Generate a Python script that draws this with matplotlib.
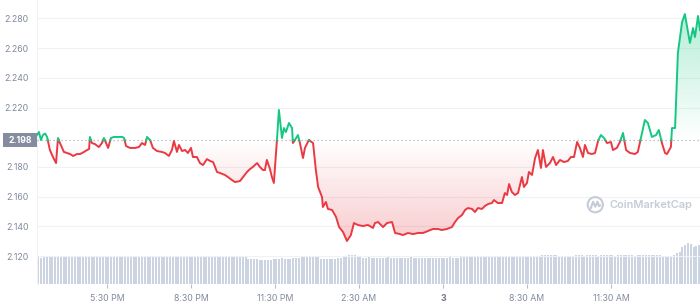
import numpy as np
import matplotlib
matplotlib.use("Agg")
import matplotlib.pyplot as plt
from matplotlib.patches import Rectangle, Circle, PathPatch
from matplotlib.path import Path
import matplotlib.transforms as mtransforms

plt.rcParams['font.family'] = ['Inter', 'DejaVu Sans']

# ---------------- data ----------------
hours = [0.00, 0.07, 0.14, 0.21, 0.29, 0.36, 0.46, 0.57, 0.68, 0.75, 0.82, 0.96, 1.07, 1.18, 1.29,
         1.43, 1.54, 1.68, 1.79, 1.86, 1.89, 1.96, 2.07, 2.21, 2.32, 2.39, 2.54, 2.64, 2.75, 2.86,
         3.04, 3.11, 3.18, 3.32, 3.50, 3.64, 3.75, 3.86, 3.93, 4.04, 4.14, 4.29, 4.46, 4.57, 4.71,
         4.82, 4.89, 5.00, 5.07, 5.18, 5.29, 5.39, 5.50, 5.57, 5.71, 5.82, 5.93, 6.07, 6.18, 6.29,
         6.43, 6.54, 6.71, 6.82, 6.96, 7.07, 7.25, 7.36, 7.50, 7.61, 7.71, 7.86, 7.96, 8.07, 8.14,
         8.21, 8.32, 8.39, 8.46, 8.57, 8.64, 8.75, 8.82, 8.89, 9.00, 9.11, 9.14, 9.21, 9.32, 9.39,
         9.50, 9.57, 9.71, 9.86, 9.96, 10.04, 10.18, 10.21, 10.32, 10.39, 10.54, 10.68, 10.79, 10.93, 11.07,
         11.21, 11.32, 11.46, 11.64, 11.82, 12.00, 12.07, 12.18, 12.36, 12.50, 12.68, 12.79, 12.96, 13.07, 13.25,
         13.43, 13.61, 13.79, 13.96, 14.14, 14.32, 14.46, 14.64, 14.82, 14.93, 15.04, 15.18, 15.29, 15.39, 15.54,
         15.64, 15.75, 15.89, 16.00, 16.11, 16.25, 16.32, 16.46, 16.61, 16.71, 16.79, 16.86, 16.96, 17.07, 17.18,
         17.32, 17.39, 17.50, 17.57, 17.68, 17.79, 17.89, 18.00, 18.07, 18.18, 18.32, 18.43, 18.54, 18.68, 18.82,
         18.96, 19.07, 19.18, 19.29, 19.39, 19.50, 19.57, 19.68, 19.82, 19.93, 20.04, 20.14, 20.25, 20.36, 20.50,
         20.57, 20.71, 20.82, 20.93, 21.04, 21.18, 21.36, 21.46, 21.57, 21.71, 21.82, 21.96, 22.11, 22.21, 22.32,
         22.43, 22.50, 22.64, 22.68, 22.79, 22.89, 23.04, 23.14, 23.25, 23.32, 23.43, 23.50, 23.61, 23.68]

prices = [2.2015, 2.2035, 2.1981, 2.2015, 2.2025, 2.2002, 2.1914, 2.1867, 2.1826, 2.1995, 2.1961, 2.1901, 2.1894, 2.1887, 2.1874,
          2.1887, 2.1887, 2.1901, 2.1914, 2.1921, 2.2002, 2.1961, 2.1954, 2.1934, 2.1961, 2.1995, 2.1928, 2.1995, 2.2002, 2.2002,
          2.2002, 2.1995, 2.1941, 2.1928, 2.1928, 2.1934, 2.1961, 2.1948, 2.2002, 2.1981, 2.1928, 2.1907, 2.1901, 2.1894, 2.1874,
          2.1914, 2.1975, 2.1901, 2.1948, 2.1907, 2.1914, 2.1894, 2.1928, 2.1867, 2.1867, 2.1826, 2.1813, 2.1853, 2.1840, 2.1833,
          2.1766, 2.1759, 2.1746, 2.1732, 2.1712, 2.1698, 2.1705, 2.1732, 2.1766, 2.1786, 2.1800, 2.1826, 2.1800, 2.1779, 2.1779,
          2.1847, 2.1786, 2.1732, 2.1692, 2.1981, 2.2184, 2.1995, 2.2062, 2.2035, 2.2096, 2.2062, 2.1961, 2.1981, 2.2015, 2.1961,
          2.1860, 2.1928, 2.1981, 2.1961, 2.1779, 2.1665, 2.1597, 2.1530, 2.1564, 2.1517, 2.1510, 2.1463, 2.1395, 2.1362, 2.1301,
          2.1341, 2.1422, 2.1409, 2.1402, 2.1409, 2.1389, 2.1422, 2.1429, 2.1395, 2.1422, 2.1429, 2.1355, 2.1348, 2.1341, 2.1355,
          2.1348, 2.1355, 2.1355, 2.1368, 2.1382, 2.1382, 2.1375, 2.1382, 2.1395, 2.1429, 2.1456, 2.1476, 2.1510, 2.1523, 2.1517,
          2.1496, 2.1523, 2.1517, 2.1537, 2.1550, 2.1557, 2.1577, 2.1557, 2.1557, 2.1624, 2.1611, 2.1685, 2.1631, 2.1611, 2.1624,
          2.1732, 2.1665, 2.1692, 2.1766, 2.1746, 2.1860, 2.1914, 2.1793, 2.1914, 2.1800, 2.1826, 2.1867, 2.1813, 2.1847, 2.1833,
          2.1840, 2.1867, 2.1867, 2.1968, 2.1928, 2.1867, 2.1948, 2.1894, 2.1887, 2.1894, 2.1975, 2.2015, 2.1995, 2.1961, 2.1968,
          2.1914, 2.1928, 2.1968, 2.2029, 2.1914, 2.1894, 2.1887, 2.1901, 2.1995, 2.2116, 2.2096, 2.2002, 2.2015, 2.2049, 2.1961,
          2.1894, 2.1887, 2.1934, 2.2062, 2.2062, 2.2568, 2.2776, 2.2830, 2.2709, 2.2635, 2.2736, 2.2675, 2.2817, 2.2722]

# volume bars, one per 6 minutes (arbitrary units, millions)
volume = [9.5, 9.4, 9.5, 9.5, 9.6,
          9.8, 9.9, 9.8, 9.8,
          10.0, 10.0, 10.1, 10.0, 10.0, 10.0, 10.1, 10.0, 10.0, 10.0,
          9.7, 9.8, 9.7, 9.8, 9.8, 9.7, 9.7, 9.8, 9.8, 9.7, 9.7, 9.8, 9.7, 9.7, 9.8, 9.8, 9.7, 9.7, 9.7, 9.8, 9.8, 9.7,
          9.5, 9.5, 9.6, 9.5, 9.5,
          9.8, 9.8, 9.9, 9.8, 9.8, 9.8, 9.9, 9.9, 9.8, 9.8, 9.8, 9.9, 9.8,
          10.0, 10.0, 10.1, 10.0, 10.0, 9.9, 10.0, 10.0, 9.9, 9.8, 9.8, 9.8, 9.9, 9.8, 9.8, 9.8,
          9.1, 9.0, 8.9, 8.8, 8.7, 8.6, 8.5, 8.4, 8.5, 8.9,
          9.1, 9.1, 9.2, 9.1, 9.0, 9.1, 9.2, 9.2, 9.3,
          9.7, 9.8, 9.7, 9.8, 9.7, 9.7, 9.6,
          9.0, 8.9, 8.9, 8.9, 9.0, 9.1, 9.2, 9.4, 9.6,
          10.1, 10.2, 10.3, 10.2, 10.0, 9.7,
          9.4, 9.4, 9.5, 9.4, 9.4, 9.3, 9.4, 9.4, 9.4, 9.5, 9.4, 9.4, 9.3, 9.4, 9.4, 9.4, 9.4, 9.5,
          9.4, 9.4, 9.3, 9.4, 9.4, 9.4, 9.4, 9.3, 9.4, 9.4, 9.4, 9.4, 9.4, 9.5, 9.4, 9.4, 9.4, 9.5,
          9.5, 9.5, 9.6, 9.5, 9.5, 9.5, 9.6, 9.6, 9.7, 9.8, 9.8, 9.9,
          10.0, 10.0, 10.1, 10.0, 10.0, 10.0, 10.1, 10.0, 10.0, 10.0, 10.0, 10.1, 10.0, 10.0, 10.1, 10.1,
          10.2, 10.3, 10.3, 10.2, 10.3, 10.2, 10.1,
          9.8, 9.7, 9.8, 9.9,
          10.1, 10.2, 10.2, 10.2, 10.1, 10.2, 10.2, 10.2, 10.2, 10.1, 10.2, 10.2, 10.2, 10.2, 10.2, 10.1, 10.2,
          10.2, 10.2, 10.2, 10.2, 10.2, 10.1, 10.2, 10.2, 10.2, 10.2, 10.2, 10.2, 10.2, 10.3, 10.2, 10.1, 10.0,
          9.5, 9.6,
          10.4, 10.9, 11.4,
          13.2, 13.9, 14.6, 14.3,
          13.2, 13.6, 13.9]
volume_step_hours = 0.1

ref_price = 2.198
y_ticks = [2.120, 2.140, 2.160, 2.180, 2.220, 2.240, 2.260, 2.280]
x_tick_hours = [2.5, 5.5, 8.5, 11.5, 14.5, 17.5, 20.5]
x_tick_labels = ["5:30 PM", "8:30 PM", "11:30 PM", "2:30 AM", "3", "8:30 AM", "11:30 AM"]

GREEN = "#16c784"
RED = "#ea3943"
LABEL = "#808a9d"
GRID = "#eff2f5"

# ---------------- figure ----------------
W, H = 700, 304
fig = plt.figure(figsize=(W / 100, H / 100), dpi=100)
ax = fig.add_axes([37 / W, 20 / H, 663 / W, 284 / H])
ymin, ymax = 2.10114, 2.29246
ax.set_ylim(ymin, ymax)
ax.set_xlim(0, hours[-1])

# volume on twin axis
axv = ax.twinx()
axv.set_position(ax.get_position())
vol_x = np.arange(len(volume)) * volume_step_hours + volume_step_hours / 2
axv.bar(vol_x, volume, width=0.072, color="#cdd4e1", linewidth=0, zorder=1)
axv.set_ylim(0, 101.4)
axv.set_yticks([])
for s in axv.spines.values():
    s.set_visible(False)
ax.set_zorder(axv.get_zorder() + 1)
ax.patch.set_visible(False)
axv.patch.set_visible(True)

# price line split at the reference
t = np.array(hours)
p = np.array(prices)
xs, ys = [t[0]], [p[0]]
for i in range(1, len(t)):
    a, b = p[i - 1] - ref_price, p[i] - ref_price
    if a * b < 0:
        f = a / (a - b)
        xs.append(t[i - 1] + f * (t[i] - t[i - 1]))
        ys.append(ref_price)
    xs.append(t[i])
    ys.append(p[i])
xs = np.array(xs)
ys = np.array(ys)

# gradient fills
def gradient_fill(lower, upper, color, alpha_low, alpha_high, y0, y1):
    poly = ax.fill_between(xs, lower, upper, facecolor="none", edgecolor="none")
    path = poly.get_paths()[0]
    n = 256
    rgba = np.zeros((n, 1, 4))
    rgba[..., :3] = matplotlib.colors.to_rgb(color)
    rgba[:, 0, 3] = np.linspace(alpha_low, alpha_high, n)
    im = ax.imshow(rgba, aspect="auto", origin="lower",
                   extent=[xs[0], xs[-1], y0, y1], zorder=2, interpolation="bilinear")
    im.set_clip_path(path, transform=ax.transData)

gradient_fill(np.minimum(ys, ref_price), np.full_like(ys, ref_price), RED, 0.26, 0.0,
              ys.min(), ref_price)
gradient_fill(np.full_like(ys, ref_price), np.maximum(ys, ref_price), GREEN, 0.0, 0.32,
              ref_price, ys.max())
ax.set_xlim(0, hours[-1])
ax.set_ylim(ymin, ymax)

up = np.where(ys >= ref_price, ys, np.nan)
dn = np.where(ys <= ref_price, ys, np.nan)
ax.plot(xs, dn, color=RED, lw=1.4, zorder=4, solid_joinstyle="round")
ax.plot(xs, up, color=GREEN, lw=1.4, zorder=4, solid_joinstyle="round")

ax.axhline(ref_price, color="#a9b1c2", lw=0.9, ls=(0, (1, 2.2)), zorder=3)

# axes styling
ax.set_yticks(y_ticks)
ax.set_yticklabels([f"{v:.3f}" for v in y_ticks])
ax.grid(axis="y", color=GRID, lw=0.8, zorder=0)
ax.set_axisbelow(True)
ax.tick_params(axis="y", length=0, pad=6, labelsize=6.3, labelcolor=LABEL)
ax.set_xticks(x_tick_hours)
ax.set_xticklabels(x_tick_labels)
ax.tick_params(axis="x", length=3, width=0.8, color="#b7bfcc", pad=4,
               labelsize=6.3, labelcolor=LABEL)
for lbl in ax.get_xticklabels():
    if lbl.get_text() == "3":
        lbl.set_fontweight("bold")
        lbl.set_color("#6e778a")
for name, s in ax.spines.items():
    if name == "left":
        s.set_color(GRID)
        s.set_linewidth(0.8)
    else:
        s.set_visible(False)

# current price box
trans = mtransforms.blended_transform_factory(ax.transAxes, ax.transData)
box_h = 0.0047
ax.add_patch(Rectangle((-34 / 663, ref_price - box_h), 34 / 663, 2 * box_h,
                       transform=trans, facecolor="#858ca0", edgecolor="none",
                       clip_on=False, zorder=6))
ax.text(-17 / 663, ref_price, f"{ref_price:.3f}", transform=trans, ha="center", va="center",
        color="white", fontsize=6.3, fontweight="bold", zorder=7, clip_on=False)

# watermark
WM = "#c6ccd7"
wm = ax.text((609 - 37) / 663, (284 - 204.5) / 284, "CoinMarketCap", transform=ax.transAxes,
             ha="left", va="center", fontsize=8.6, fontweight="semibold", color=WM, zorder=1)
renderer = fig.canvas.get_renderer()
w_px = wm.get_window_extent(renderer).width
wm.set_fontsize(8.6 * 83.0 / w_px)
logo_t = mtransforms.Affine2D().scale(1 / 100).translate(595.3 / 100, (H - 204.7) / 100) + fig.dpi_scale_trans
fig.patches.append(Circle((0, 0), 7.6, transform=logo_t, facecolor="none", edgecolor=WM, lw=1.5))
wave = Path([(-4.5, -3.5), (-2.2, 3.0), (0.0, -2.0), (2.2, 3.0), (3.6, -1.5), (5.0, -0.5)],
            [Path.MOVETO] + [Path.LINETO] * 5)
fig.patches.append(PathPatch(wave, transform=logo_t, facecolor="none", edgecolor=WM, lw=1.5,
                             capstyle="round", joinstyle="round"))

fig.savefig("out.png", dpi=100)
